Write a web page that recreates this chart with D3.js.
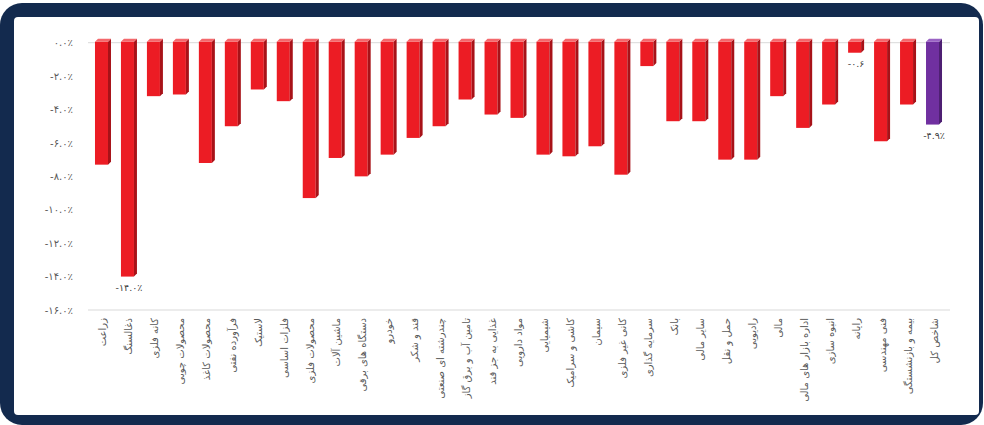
<!DOCTYPE html>
<html>
<head>
<meta charset="utf-8">
<script src="https://cdn.jsdelivr.net/npm/d3@7"></script>
<style>
    html, body { margin: 0; padding: 0; background: #fff; }
    svg { display: block; font-family: 'DejaVu Sans', sans-serif; }
</style>
</head>
<body>
<div class="chart-container"></div>
<script>
const categories = [
    'زراعت', 'ذغالسنگ', 'کانه فلزی', 'محصولات چوبی', 'محصولات کاغذ',
    'فرآورده نفتی', 'لاستیک', 'فلزات اساسی', 'محصولات فلزی', 'ماشین آلات',
    'دستگاه های برقی', 'خودرو', 'قند و شکر', 'چندرشته ای صنعتی',
    'تامین آب و برق گاز', 'غذایی به جز قند', 'مواد دارویی', 'شیمیایی',
    'کاشی و سرامیک', 'سیمان', 'کانی غیر فلزی', 'سرمایه گذاری', 'بانک',
    'سایر مالی', 'حمل و نقل', 'رادیویی', 'مالی', 'اداره بازار های مالی',
    'انبوه سازی', 'رایانه', 'فنی مهندسی', 'بیمه و بازنشستگی', 'شاخص کل'
]
const values = [
    -7.3, -14.0, -3.2, -3.1, -7.2,
    -5.0, -2.8, -3.5, -9.3, -6.9,
    -8.0, -6.7, -5.7, -5.0,
    -3.4, -4.3, -4.5, -6.7,
    -6.8, -6.2, -7.9, -1.4, -4.7,
    -4.7, -7.0, -7.0, -3.2, -5.1,
    -3.7, -0.6, -5.9, -3.7, -4.9
]
const tickValues = [0, -2, -4, -6, -8, -10, -12, -14, -16]
// only three bars carry a value label
const labelCategories = ['ذغالسنگ', 'رایانه', 'شاخص کل']
const labelTexts = ['-۱۴.۰٪', '-۰.۶', '-۴.۹٪']
const totalCategory = 'شاخص کل'

const width = 984
const height = 425

const faDigits = '۰۱۲۳۴۵۶۷۸۹'
const toFa = s => String(s).replace(/[0-9]/g, c => faDigits[+c])
const tickFormat = v => (v < 0 ? '-' : '') + toFa(Math.abs(v).toFixed(1)) + '٪'

const svg = d3
    .select('.chart-container')
    .append('svg')
    .attr('width', width)
    .attr('height', height)

// navy frame round a white panel
svg.append('rect')
    .attr('x', 0).attr('y', 3)
    .attr('width', 983).attr('height', 422)
    .attr('rx', 22)
    .attr('fill', '#132a4e')
svg.append('rect')
    .attr('x', 14).attr('y', 17)
    .attr('width', 965).attr('height', 398)
    .attr('rx', 4)
    .attr('fill', '#fff')

const x = d3.scaleBand()
    .domain(categories)
    .range([90, 947])
    .paddingInner(0)

const y = d3.scaleLinear()
    .domain([-16, 0])
    .range([310, 42.7])

// top line at zero and the base line at -16
svg.selectAll('.hline')
    .data([0, -16])
    .enter()
    .append('line')
    .attr('class', 'hline')
    .attr('x1', 88).attr('x2', 950)
    .attr('y1', d => y(d)).attr('y2', d => y(d))
    .attr('stroke', '#d9d9d9')
    .attr('stroke-width', 1)

const yAxis = svg.append('g')
    .attr('transform', 'translate(76,0)')
    .call(d3.axisLeft(y).tickValues(tickValues).tickSize(0).tickPadding(3).tickFormat(tickFormat))
yAxis.select('.domain').remove()
yAxis.selectAll('text')
    .attr('direction', 'ltr')
    .style('font-family', "'DejaVu Sans', sans-serif")
    .style('font-size', '10px')
    .attr('fill', '#595959')

const BAR_W = 13
const DEPTH = 3
const data = categories.map((c, i) => ({ name: c, value: values[i] }))
const colors = d => d.name === totalCategory
    ? { front: '#7030a0', side: '#4d1f72', top: '#9a63c4' }
    : { front: '#ec1c24', side: '#a81218', top: '#f4686c' }

const bar = svg.selectAll('.bar')
    .data(data)
    .enter()
    .append('g')
    .attr('class', 'bar')
    .attr('transform', d => 'translate(' + (x(d.name) + (x.bandwidth() - BAR_W - DEPTH) / 2) + ',0)')

const y0 = y(0) - 1
bar.append('rect')
    .attr('x', 0)
    .attr('y', y0)
    .attr('width', BAR_W)
    .attr('height', d => y(d.value) - y0)
    .attr('fill', d => colors(d).front)
bar.append('polygon')
    .attr('points', d => {
        const yb = y(d.value)
        return [[BAR_W, y0], [BAR_W + DEPTH, y0 - DEPTH], [BAR_W + DEPTH, yb - DEPTH], [BAR_W, yb]].join(' ')
    })
    .attr('fill', d => colors(d).side)
bar.append('polygon')
    .attr('points', [[0, y0], [DEPTH, y0 - DEPTH], [BAR_W + DEPTH, y0 - DEPTH], [BAR_W, y0]].join(' '))
    .attr('fill', d => colors(d).top)

// value labels under the chosen bars
svg.selectAll('.value-label')
    .data(labelCategories)
    .enter()
    .append('text')
    .attr('class', 'value-label')
    .attr('direction', 'ltr')
    .attr('x', d => x(d) + x.bandwidth() / 2)
    .attr('y', d => y(values[categories.indexOf(d)]) + 14)
    .attr('text-anchor', 'middle')
    .style('font-size', '9.5px')
    .attr('fill', '#404040')
    .text((d, i) => labelTexts[i])

// category labels, turned to run up the page
svg.selectAll('.cat-label')
    .data(categories)
    .enter()
    .append('text')
    .attr('class', 'cat-label')
    .attr('transform', d => 'translate(' + (x(d) + x.bandwidth() / 2) + ',318) rotate(-90)')
    .attr('text-anchor', 'end')
    .attr('dy', '0.35em')
    .style('font-size', '10px')
    .attr('fill', '#595959')
    .text(d => d)
</script>
</body>
</html>
